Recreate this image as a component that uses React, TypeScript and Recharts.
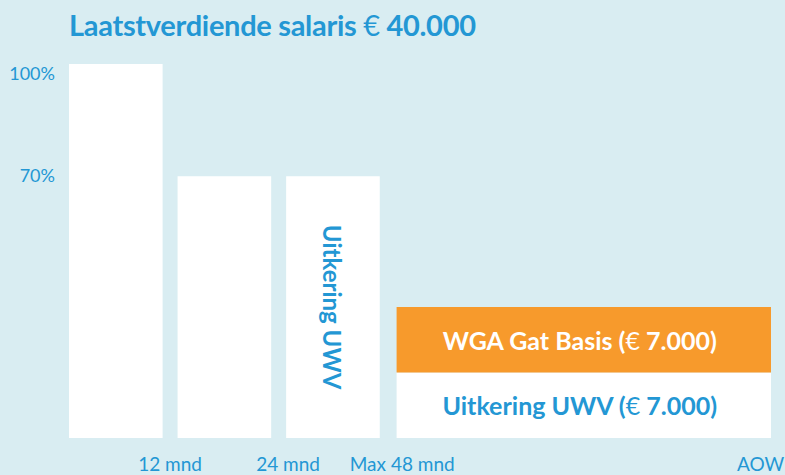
import React from "react";
import { ComposedChart, XAxis, YAxis, ReferenceArea } from "recharts";

// schematic periods (widths are not to scale in the original)
const periods = ["0-12 mnd", "12-24 mnd", "24-48 mnd", "48 mnd-AOW"];
const periodStart = [0, 1.16, 2.32, 3.5];
const periodEnd = [1, 2.16, 3.32, 7.5];

const salary = 40000;
const uwvAmount = 7000;
const wgaAmount = 7000;

// % of last earned salary
const uitkeringUWV = [100, 70, 70, (uwvAmount / salary) * 100];
const wgaGatBasis = [0, 0, 0, (wgaAmount / salary) * 100];

const xTickPos = [1.08, 2.34, 3.56, 7.39];
const xTickLabels = ["12 mnd", "24 mnd", "Max 48 mnd", "AOW"];
const yTicks = [70, 100];

const BLUE = "#2397d4";
const ORANGE = "#f79a2c";
const BG = "#d9edf2";
const FONT = "Lato, 'Open Sans', sans-serif";

const data = periods.map((p, i) => ({
  period: p,
  start: periodStart[i],
  end: periodEnd[i],
  uwv: uitkeringUWV[i],
  wga: wgaGatBasis[i],
  total: uitkeringUWV[i] + wgaGatBasis[i],
}));

const fmt = (n: number) => n.toLocaleString("nl-NL");

function BlockLabel(props: any) {
  const { viewBox, parts, fill, angle } = props;
  if (!viewBox) return null;
  const cx = viewBox.x + viewBox.width / 2;
  const cy = viewBox.y + viewBox.height / 2;
  return (
    <text
      x={angle ? cx : cx - 4}
      y={cy}
      textAnchor="middle"
      dominantBaseline="central"
      fill={fill}
      fontFamily={FONT}
      fontSize={angle ? 24 : 25}
      fontWeight={700}
      transform={angle ? `rotate(${angle} ${cx} ${cy})` : undefined}
    >
      {parts.map((p: { t: string; w: number }, i: number) => (
        <tspan key={i} fontWeight={p.w}>
          {p.t}
        </tspan>
      ))}
    </text>
  );
}

function YTick(props: any) {
  const { x, y, payload } = props;
  return (
    <text
      x={x}
      y={y + (payload.value === 100 ? 9 : -1)}
      textAnchor="end"
      dominantBaseline="central"
      fill={BLUE}
      fontFamily={FONT}
      fontSize={18}
    >
      {payload.value}%
    </text>
  );
}

export default function App() {
  return (
    <div style={{ position: "relative", width: 785, height: 475, background: BG, overflow: "hidden" }}>
      <style>{`body{margin:0}`}</style>
      <div
        style={{
          position: "absolute",
          left: 69,
          top: 10,
          fontFamily: FONT,
          fontSize: 29,
          lineHeight: 1,
          fontWeight: 700,
          color: BLUE,
          whiteSpace: "nowrap",
          letterSpacing: -0.3,
        }}
      >
        Laatstverdiende salaris <span style={{ fontWeight: 400 }}>€</span> {fmt(salary)}
      </div>
      <ComposedChart
        width={785}
        height={475}
        data={data}
        margin={{ top: 64, right: 14, bottom: 0, left: 0 }}
      >
        <XAxis
          type="number"
          dataKey="start"
          domain={[0, 7.5]}
          ticks={xTickPos}
          interval={0}
          tickFormatter={(v: number) => xTickLabels[xTickPos.indexOf(v)]}
          axisLine={false}
          tickLine={false}
          tickSize={0}
          tickMargin={20}
          height={37}
          tick={{ fill: BLUE, fontSize: 19, fontFamily: FONT }}
        />
        <YAxis
          type="number"
          dataKey="total"
          domain={[0, 100]}
          ticks={yTicks}
          width={69}
          axisLine={false}
          tickLine={false}
          tickSize={0}
          tickMargin={14}
          tick={<YTick />}
        />
        {data.map((d, i) => (
          <ReferenceArea
            key={`uwv-${i}`}
            x1={d.start}
            x2={d.end}
            y1={0}
            y2={d.uwv}
            fill="#ffffff"
            fillOpacity={1}
            stroke="none"
            ifOverflow="visible"
            label={
              i === 2
                ? (p: any) => (
                    <BlockLabel {...p} fill={BLUE} angle={90} parts={[{ t: "Uitkering UWV", w: 700 }]} />
                  )
                : i === 3
                ? (p: any) => (
                    <BlockLabel
                      {...p}
                      fill={BLUE}
                      parts={[
                        { t: "Uitkering UWV (", w: 700 },
                        { t: "€", w: 400 },
                        { t: ` ${fmt(uwvAmount)})`, w: 700 },
                      ]}
                    />
                  )
                : undefined
            }
          />
        ))}
        {data
          .filter((d) => d.wga > 0)
          .map((d, i) => (
            <ReferenceArea
              key={`wga-${i}`}
              x1={d.start}
              x2={d.end}
              y1={d.uwv}
              y2={d.uwv + d.wga}
              fill={ORANGE}
              fillOpacity={1}
              stroke="none"
              ifOverflow="visible"
              label={(p: any) => (
                <BlockLabel
                  {...p}
                  fill="#ffffff"
                  parts={[
                    { t: "WGA Gat Basis (", w: 700 },
                    { t: "€", w: 400 },
                    { t: ` ${fmt(wgaAmount)})`, w: 700 },
                  ]}
                />
              )}
            />
          ))}
      </ComposedChart>
    </div>
  );
}
